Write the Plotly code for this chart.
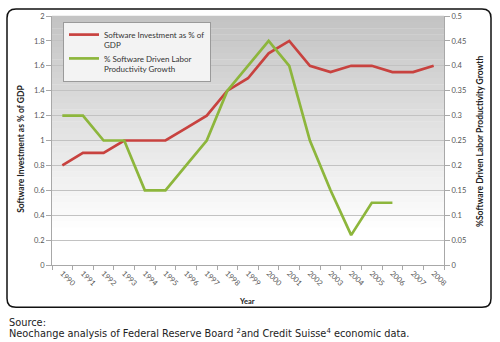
import plotly.graph_objects as go

years = [str(y) for y in range(1990, 2009)]
software_investment = [0.8, 0.9, 0.9, 1.0, 1.0, 1.0, 1.1, 1.2, 1.4, 1.5, 1.7, 1.8,
                       1.6, 1.55, 1.6, 1.6, 1.55, 1.55, 1.6]
productivity_years = [str(y) for y in range(1990, 2007)]
productivity_growth = [0.3, 0.3, 0.25, 0.25, 0.15, 0.15, 0.2, 0.25, 0.35, 0.4, 0.45,
                       0.4, 0.25, 0.15, 0.06, 0.125, 0.125]

W, H = 500, 342
L, R, T, B = 52, 444, 12, 265  # plot area in pixels


def px(x):
    return (x - L) / (R - L)


def py(y):
    return (B - y) / (B - T)


RED = "#c8423f"
GREEN = "#8db63c"
TICKFONT = dict(family="Lato", size=7.5, color="#555555")

fig = go.Figure()
fig.add_trace(go.Scatter(x=years, y=software_investment, mode="lines",
                         name="Software Investment as % of<br>GDP",
                         line=dict(color=RED, width=2.7), yaxis="y"))
fig.add_trace(go.Scatter(x=productivity_years, y=productivity_growth, mode="lines",
                         name="% Software Driven Labor<br>Productivity Growth",
                         line=dict(color=GREEN, width=2.7), yaxis="y2"))

shapes = []
# gradient background for the plot area
n = 40
for i in range(n):
    f = i / n
    frac = min(1.0, f / 0.85)
    c = int(196 + (255 - 196) * frac)
    shapes.append(dict(type="rect", xref="paper", yref="paper", x0=0, x1=1,
                       y0=1 - (i + 1) / n, y1=1 - i / n + 0.001,
                       fillcolor=f"rgb({c},{c},{c})", line=dict(width=0), layer="below"))

# rounded outer border
x0, x1, y0, y1, r = 7, 491, 5, 308, 9
path = (f"M {px(x0 + r)},{py(y0)} L {px(x1 - r)},{py(y0)} "
        f"Q {px(x1)},{py(y0)} {px(x1)},{py(y0 + r)} "
        f"L {px(x1)},{py(y1 - r)} Q {px(x1)},{py(y1)} {px(x1 - r)},{py(y1)} "
        f"L {px(x0 + r)},{py(y1)} Q {px(x0)},{py(y1)} {px(x0)},{py(y1 - r)} "
        f"L {px(x0)},{py(y0 + r)} Q {px(x0)},{py(y0)} {px(x0 + r)},{py(y0)} Z")
shapes.append(dict(type="path", xref="paper", yref="paper", path=path,
                   line=dict(color="#111111", width=1.5), layer="above"))

annotations = [
    dict(text="<b>Software Investment as % of GDP</b>", textangle=-90,
         x=px(21), y=py(147), xref="paper", yref="paper", showarrow=False,
         xanchor="center", yanchor="middle",
         font=dict(family="Lato", size=8.5, color="#222222")),
    dict(text="<b>%Software Driven Labor Productivity Growth</b>", textangle=-90,
         x=px(480), y=py(139), xref="paper", yref="paper", showarrow=False,
         xanchor="center", yanchor="middle",
         font=dict(family="Lato", size=8.5, color="#222222")),
    dict(text="<b>Year</b>", x=px(247), y=py(302), xref="paper", yref="paper",
         xanchor="center", yanchor="middle",
         showarrow=False, font=dict(family="Lato", size=7.5, color="#222222")),
    dict(text="Source:", x=px(7), y=py(323), xref="paper", yref="paper",
         xanchor="left", yanchor="middle", showarrow=False,
         font=dict(family="DejaVu Sans", size=9.8, color="#222222")),
    dict(text="Neochange analysis of Federal Reserve Board <sup>2</sup>and Credit Suisse<sup>4</sup> economic data.",
         x=px(7), y=py(334), xref="paper", yref="paper", xanchor="left", yanchor="middle",
         showarrow=False,
         font=dict(family="DejaVu Sans", size=9.8, color="#222222")),
]

fig.update_layout(
    width=W, height=H,
    margin=dict(l=L, r=W - R, t=T, b=H - B, pad=0),
    paper_bgcolor="white", plot_bgcolor="rgba(0,0,0,0)",
    showlegend=True,
    legend=dict(x=px(63), y=py(18), xanchor="left", yanchor="top",
                bgcolor="#f3f3f3", bordercolor="#9a9a9a", borderwidth=1,
                font=dict(family="Lato", size=8, color="#333333"),
                valign="top", tracegroupgap=8, itemwidth=30),
    xaxis=dict(type="category", tickangle=45, tickfont=TICKFONT,
               showgrid=False, showline=True, linecolor="#a8a8a8", linewidth=1,
               ticks="outside", ticklen=4, tickcolor="#a8a8a8", tickson="boundaries",
               range=[-0.5, 18.5]),
    yaxis=dict(range=[0, 2], dtick=0.2, tickfont=TICKFONT, showgrid=True,
               gridcolor="#c2c2c2", gridwidth=1, showline=True, linecolor="#a8a8a8",
               ticks="outside", ticklen=5, tickcolor="#a8a8a8", zeroline=False),
    yaxis2=dict(range=[0, 0.5], dtick=0.05, tickfont=TICKFONT, overlaying="y",
                side="right", showgrid=False, showline=True, linecolor="#a8a8a8",
                ticks="outside", ticklen=5, tickcolor="#a8a8a8", zeroline=False),
    shapes=shapes, annotations=annotations,
)

fig.write_html("out.html")
